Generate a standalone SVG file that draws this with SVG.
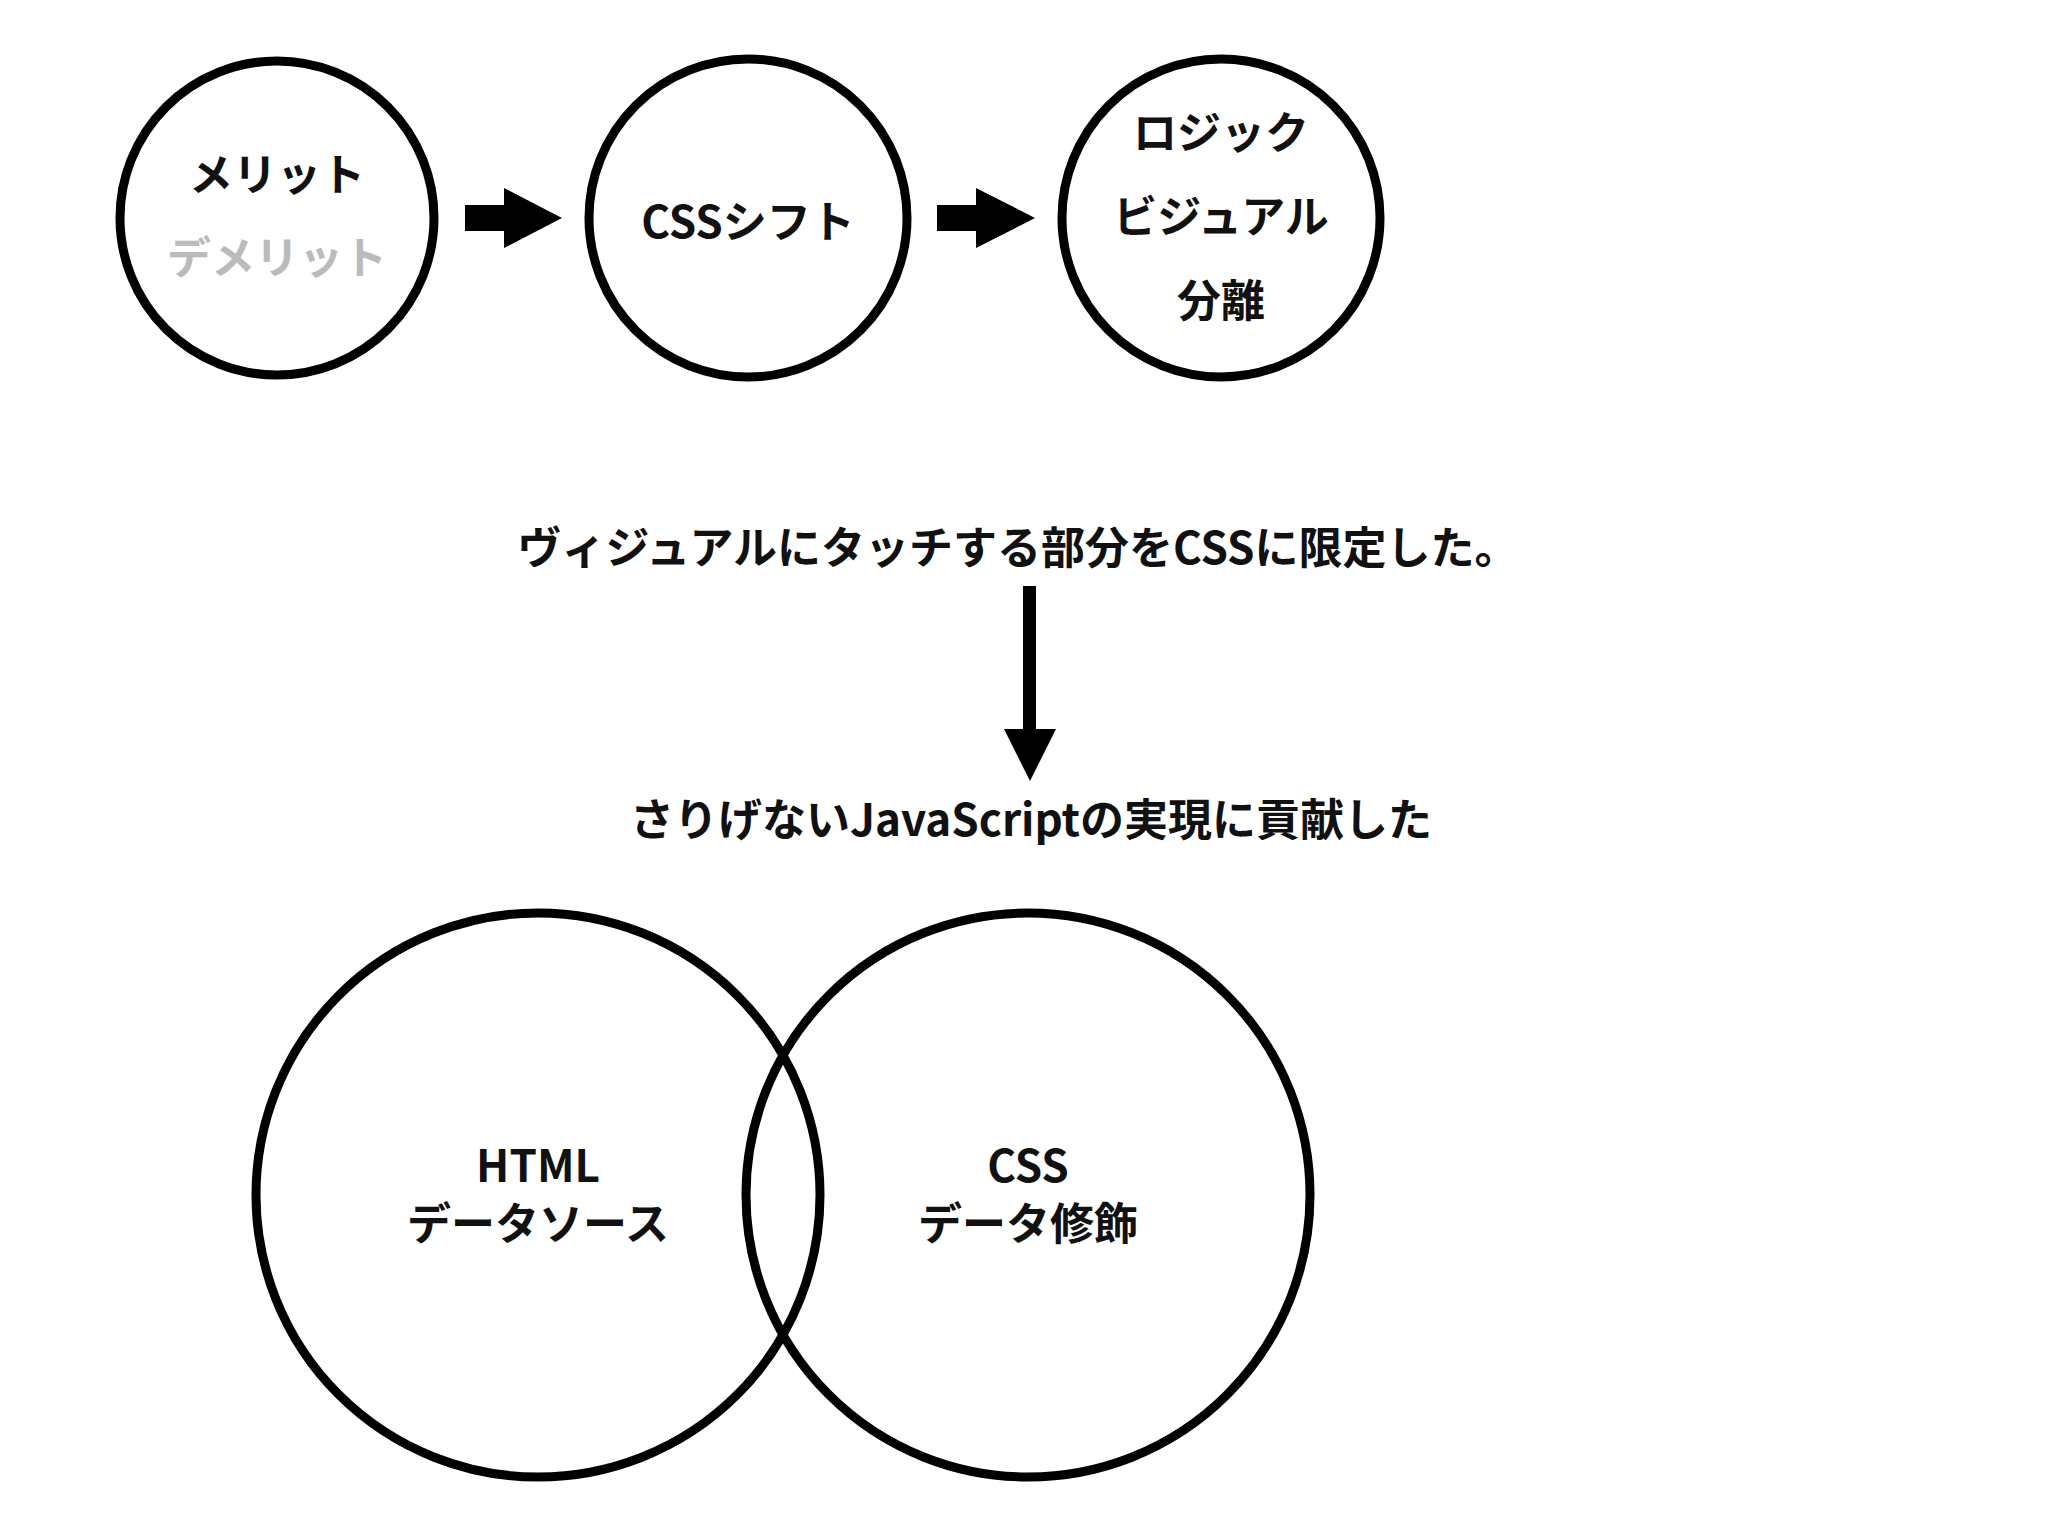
<svg xmlns="http://www.w3.org/2000/svg" width="2048" height="1536" viewBox="0 0 2048 1536">
<style>
.c{fill:none;stroke:#000;stroke-width:9}
.t{font-family:"Noto Sans CJK JP","Noto Sans",sans-serif;font-weight:bold;font-size:44px;text-anchor:middle;fill:#111}
.g{fill:#bbb}
</style>
<rect width="2048" height="1536" fill="#fff"/>
<g id="n1"><circle class="c" cx="277" cy="218" r="157"/><text class="t" x="277" y="191">メリット</text><text class="t g" x="277" y="274">デメリット</text></g>
<g id="n2"><circle class="c" cx="748" cy="218" r="159"/><text class="t" x="748" y="238">CSSシフト</text></g>
<g id="n3"><circle class="c" cx="1221" cy="218" r="159"/><text class="t" x="1221" y="149">ロジック</text><text class="t" x="1221" y="233">ビジュアル</text><text class="t" x="1221" y="317">分離</text></g>
<g id="t1"><text class="t" x="1018" y="564">ヴィジュアルにタッチする部分をCSSに限定した。</text></g>
<g id="t2"><text class="t" x="1031" y="836">さりげないJavaScriptの実現に貢献した</text></g>
<g id="n4"><circle class="c" cx="538" cy="1195" r="282"/><text class="t" x="538" y="1182">HTML</text><text class="t" x="538" y="1240">データソース</text></g>
<g id="n5"><circle class="c" cx="1028" cy="1195" r="282"/><text class="t" x="1028" y="1182">CSS</text><text class="t" x="1028" y="1240">データ修飾</text></g>
<g id="connectors">
<polygon points="465,205 504,205 504,188 562,218 504,248 504,231 465,231"/>
<polygon points="937,205 976,205 976,188 1035,218 976,248 976,231 937,231"/>
<rect x="1023" y="586" width="13" height="145"/>
<polygon points="1004,729 1056,729 1030,781"/>
</g>
</svg>
